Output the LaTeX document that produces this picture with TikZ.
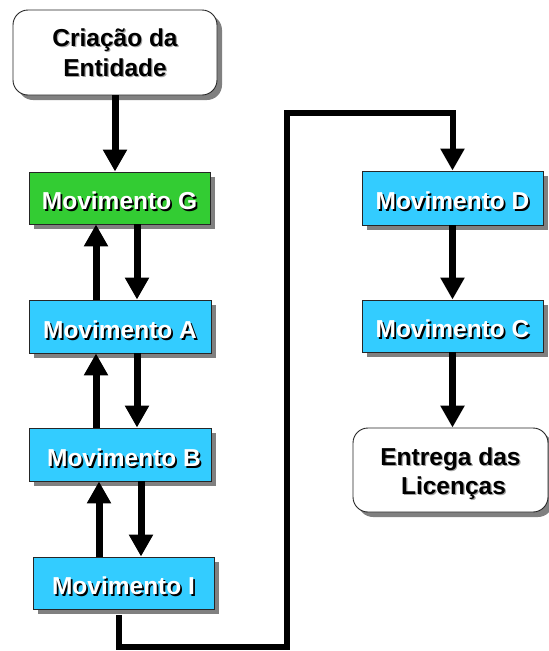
\documentclass[tikz,border=0pt]{standalone}
\usepackage{fontspec}
\setmainfont{Liberation Sans}
\usetikzlibrary{arrows.meta,shadows}
\definecolor{boxcyan}{HTML}{33CCFF}
\definecolor{boxgreen}{HTML}{33CC33}
\definecolor{shade}{HTML}{808080}
\newcommand\wtxt[1]{\raisebox{-4pt}[\height][\depth]{\makebox[0pt][l]{\hspace{1.8pt}\raisebox{-1.8pt}{\color{black}#1}}{\color{white}#1}}}
\newcommand\btxt[1]{\makebox[0pt][l]{\hspace{1.2pt}\raisebox{-1.2pt}{\color{black!35}#1}}{\color{black}#1}}
\newcommand\twolines[3]{\raisebox{#3}[\height][\depth]{\begin{tabular}{@{}c@{}}\btxt{#1}\\\btxt{#2}\end{tabular}}}
\tikzset{
  base/.style={draw=black!85, line width=0.9pt, inner sep=0pt,
    font=\fontsize{24.5}{29.5}\selectfont\bfseries, align=center,
    drop shadow={shadow xshift=5pt, shadow yshift=-5pt, fill=shade, opacity=1}},
  movbox/.style={base, fill=boxcyan, minimum width=182pt, minimum height=53pt},
  startbox/.style={base, fill=white, rounded corners=15pt},
  arr/.style={line width=7pt, -{Triangle[width=23pt,length=22pt]}},
  conn/.style={line width=6pt, line join=miter},
}
\begin{document}
\begin{tikzpicture}[x=1pt,y=-1pt]
\useasboundingbox (0,0) rectangle (549,651);
\node[startbox, minimum width=204pt, minimum height=85pt] (Cr) at (115,52.5) {\twolines{Criação da}{Entidade}{-3pt}};
\node[movbox, fill=boxgreen, minimum width=181pt, minimum height=52pt] (G) at (119.5,198) {\wtxt{Movimento G}};
\node[movbox] (A) at (120,326.5) {\wtxt{Movimento A}};
\node[movbox] (B) at (120,454.5) {\hspace{8pt}\wtxt{Movimento B}};
\node[movbox, minimum width=181pt, minimum height=52pt] (I) at (123.5,583) {\wtxt{Movimento I}};
\node[movbox, minimum width=181pt, minimum height=54pt] (D) at (452.5,198) {\wtxt{Movimento D}};
\node[movbox, minimum width=181pt, minimum height=52pt] (C) at (452.5,326) {\wtxt{Movimento C}};
\node[startbox, minimum width=195pt, minimum height=84pt] (E) at (450.5,470) {\twolines{Entrega das}{\hspace{6pt}Licenças}{-4pt}};

\draw[arr] (Cr.south) -- (Cr.south |- G.north);
\draw[arr] ([xshift=17.5pt]G.south) -- ([xshift=17pt]A.north);
\draw[arr] ([xshift=-24pt]A.north) -- ([xshift=-23.5pt]G.south);
\draw[arr] ([xshift=17pt]A.south) -- ([xshift=17pt]B.north);
\draw[arr] ([xshift=-24pt]B.north) -- ([xshift=-24pt]A.south);
\draw[arr] ([xshift=21pt]B.south) -- ([xshift=17.5pt]I.north);
\draw[arr] ([xshift=-24.5pt]I.north) -- ([xshift=-21pt]B.south);
\draw[arr] (D.south) -- (C.north);
\draw[arr] (C.south) -- (C.south |- E.north);

\coordinate (k1) at (119,647);
\coordinate (k2) at (287,647);
\coordinate (k3) at (287,113);
\coordinate (k4) at (452.5,113);
\draw[conn, -{Triangle[width=23pt,length=22pt]}] ([xshift=-4.5pt,yshift=-6pt]I.south) -- (k1) -- (k2) -- (k3) -- (k4) -- (D.north);
\end{tikzpicture}
\end{document}
